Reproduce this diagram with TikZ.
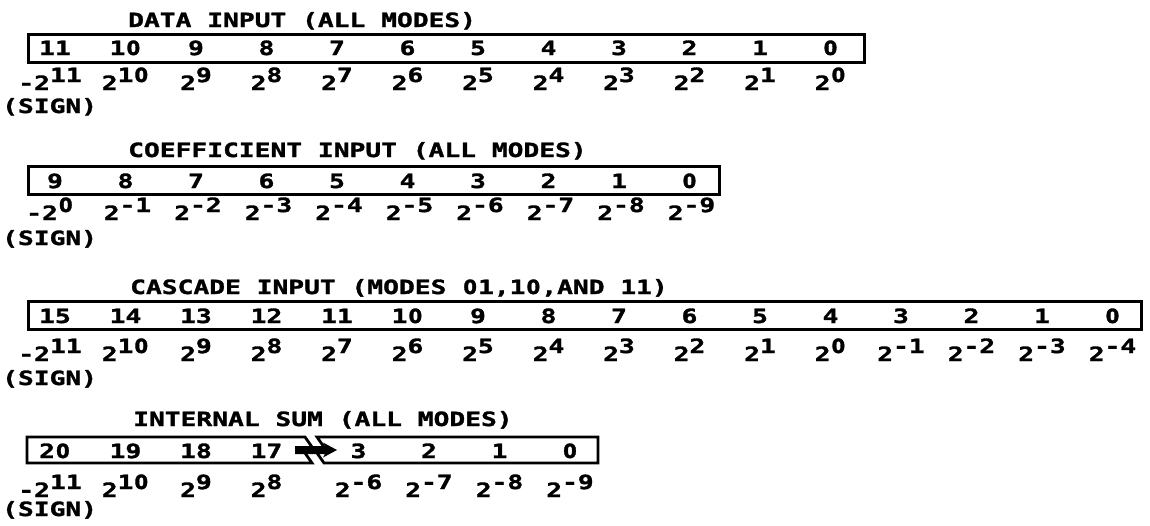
\documentclass[tikz,border=0pt]{standalone}
\usepackage{fontspec}
\newfontfamily\plotfont[FakeStretch=1.34,FakeBold=1.6]{DejaVu Sans Mono Bold}
% plain (undotted) zero, set in the width of one mono cell
\newfontfamily\zerofont[FakeStretch=1.0,FakeBold=1.6]{DejaVu Sans Bold}
\newcommand\zr{\makebox[\fontcharwd\font`1]{\zerofont 0}}
\newcommand\pw[2]{#1\raisebox{8pt}{#2}}
\tikzset{
  lett/.style={inner sep=0pt, font=\plotfont\fontsize{19.6}{20}\selectfont},
  title/.style={lett, anchor=base west},
  bit/.style={lett, anchor=base},
  wt/.style={lett, anchor=base},
  rule/.style={line width=2.8pt, line join=miter},
  frame/.style={draw, rule, inner sep=0pt, anchor=north west},
}
\begin{document}
\begin{tikzpicture}[x=1pt, y=-1pt]
\useasboundingbox (0,0) rectangle (1150,525);

% ---------- data input ----------
\node[title] (t1) at (128,27) {DATA INPUT (ALL MODES)};
\node[frame, minimum width=836pt, minimum height=28pt] (box1) at (27,33) {};
\foreach \b [count=\i from 0] in {11,1\zr,9,8,7,6,5,4,3,2,1,\zr}
  \node[bit] (d\i) at ({55+70.5*\i},55) {\b};
\node[wt] (dw0) at (50,90) {\pw{-2}{11}};
\foreach \e [count=\i from 1] in {1\zr,9,8,7,6,5,4,3,2,1,\zr}
  \node[wt] (dw\i) at ({55+70.5*\i},90) {\pw{2}{\e}};
\node[title] (s1) at (2,113) {(SIGN)};

% ---------- coefficient input ----------
\node[title] (t2) at (128,157) {COEFFICIENT INPUT (ALL MODES)};
\node[frame, minimum width=691pt, minimum height=28pt] (box2) at (27,165) {};
\foreach \b [count=\i from 0] in {9,8,7,6,5,4,3,2,1,\zr}
  \node[bit] (c\i) at ({55+70.5*\i},188) {\b};
\node[wt] (cw0) at (50,220) {\pw{-2}{\zr}};
\foreach \e [count=\i from 1] in {1,2,3,4,5,6,7,8,9}
  \node[wt] (cw\i) at ({57+70.5*\i},220) {\pw{2}{-\e}};
\node[title] (s2) at (2,245) {(SIGN)};

% ---------- cascade input ----------
\node[title] (t3) at (130,294) {CASCADE INPUT (MODES \zr1,1\zr,AND 11)};
\node[frame, minimum width=1113pt, minimum height=28pt] (box3) at (27,300) {};
\foreach \b [count=\i from 0] in {15,14,13,12,11,1\zr,9,8,7,6,5,4,3,2,1,\zr}
  \node[bit] (k\i) at ({55+70.5*\i},323) {\b};
\node[wt] (kw0) at (50,361) {\pw{-2}{11}};
\foreach \e [count=\i from 1] in {1\zr,9,8,7,6,5,4,3,2,1,\zr,-1,-2,-3,-4}
  \node[wt] (kw\i) at ({55+70.5*\i},361) {\pw{2}{\e}};
\node[title] (s3) at (2,385) {(SIGN)};

% ---------- internal sum ----------
\node[title] (t4) at (133,426) {INTERNAL SUM (ALL MODES)};
% high end of the register, broken on the right
\draw[rule]
  (305,437) -- (27,437) -- (27,463) -- (312,463) -- (305,453) -- (312,447) -- cycle;
% low end of the register, broken on the left
\draw[rule]
  (317,437) -- (598,437) -- (598,463) -- (324,463) -- (317,453) -- (324,447) -- cycle;
\foreach \b [count=\i from 0] in {2\zr,19,18,17}
  \node[bit] (ih\i) at ({55+70.5*\i},458) {\b};
\foreach \b [count=\i from 0] in {3,2,1,\zr}
  \node[bit] (il\i) at ({358.5+70.5*\i},458) {\b};
% bridging arrow over the break
\fill (295,446) -- (325,446) -- (323,442.5) -- (337,450) -- (323,457.5) -- (325,454) -- (295,454) -- cycle;
\node[wt] (iwh0) at (50,497) {\pw{-2}{11}};
\foreach \e [count=\i from 1] in {1\zr,9,8}
  \node[wt] (iwh\i) at ({55+70.5*\i},497) {\pw{2}{\e}};
\foreach \e [count=\i from 0] in {6,7,8,9}
  \node[wt] (iwl\i) at ({358.5+70.5*\i},497) {\pw{2}{-\e}};
\node[title] (s4) at (2,516) {(SIGN)};
\end{tikzpicture}
\end{document}
